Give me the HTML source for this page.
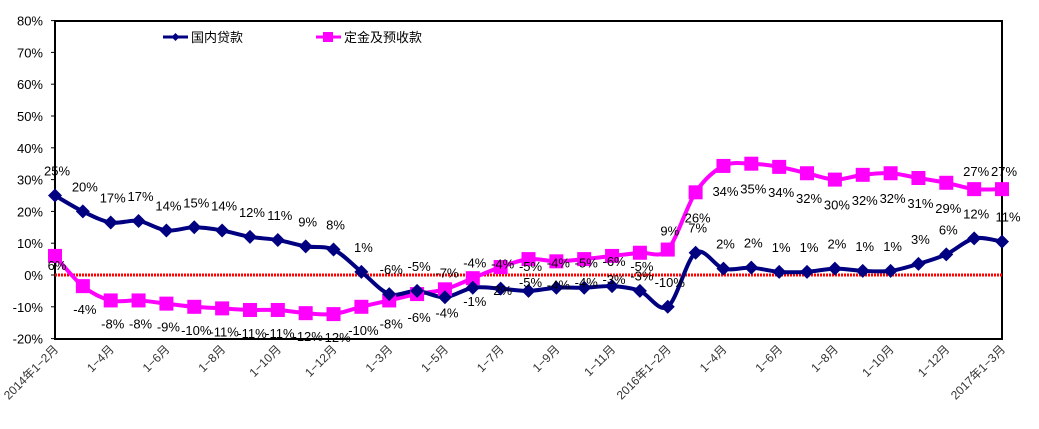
<!DOCTYPE html>
<html><head><meta charset="utf-8"><style>
body{margin:0;background:#fff;}
svg text{font-family:"Liberation Sans","Noto Sans CJK SC",sans-serif;}
</style></head><body>
<svg id="c" width="1039" height="424" xmlns="http://www.w3.org/2000/svg"></svg>
<script>
const svg=document.getElementById('c');
const L=55,R=1002,T=21,B=339;
const Y=v=>275-v*3.18;
const X=i=>L+i*(R-L)/34;
const blue=[25,20,16.5,17,14,15,14,12,11,9,8,1,-6,-5,-7,-4,-4.3,-5,-4,-4,-3.5,-5,-10,7,2,2.3,1,1,2,1.3,1.3,3.5,6.5,11.5,10.5];
const bl=[25,20,17,17,14,15,14,12,11,9,8,1,-6,-5,-7,-4,-4,-5,-4,-5,-6,-5,-10,7,2,2,1,1,2,1,1,3,6,12,11];
const pink=[6,-3.5,-8,-8,-9,-10,-10.5,-11,-11,-12,-12.3,-10,-8,-6,-4.5,-1,2.5,5,4.3,5,6,7,8,26,34.3,35,34,32,30,31.5,32,30.5,29,27,27];
const pl=[6,-4,-8,-8,-9,-10,-11,-11,-11,-12,-12,-10,-8,-6,-4,-1,2,-5,-4,-4,-3,-3,9,26,34,35,34,32,30,32,32,31,29,27,27];
let s='';
s+=`<rect x="${L}" y="${T}" width="${R-L}" height="${B-T}" fill="#fff" stroke="#000" stroke-width="2"/>`;
for(let v=80;v>=-20;v-=10){s+=`<line x1="${L-4}" x2="${L}" y1="${Y(v)}" y2="${Y(v)}" stroke="#000"/><text x="43" y="${Y(v)+5}" font-size="13" text-anchor="end">${v}%</text>`;}
s+=`<line x1="${L}" x2="${R}" y1="275" y2="275" stroke="#f00" stroke-width="3" stroke-dasharray="2,1"/>`;
function path(d){let p=`M${X(0)},${Y(d[0])}`;for(let i=0;i<d.length-1;i++){const p0=[X(Math.max(i-1,0)),Y(d[Math.max(i-1,0)])],p1=[X(i),Y(d[i])],p2=[X(i+1),Y(d[i+1])],p3=[X(Math.min(i+2,d.length-1)),Y(d[Math.min(i+2,d.length-1)])];const t=0.16;p+=` C${p1[0]+(p2[0]-p0[0])*t},${p1[1]+(p2[1]-p0[1])*t} ${p2[0]-(p3[0]-p1[0])*t},${p2[1]-(p3[1]-p1[1])*t} ${p2[0]},${p2[1]}`;}return p;}
s+=`<path d="${path(pink)}" fill="none" stroke="#f0f" stroke-width="4"/>`;
s+=`<path d="${path(blue)}" fill="none" stroke="#000080" stroke-width="4"/>`;
pink.forEach((v,i)=>{s+=`<rect x="${X(i)-7}" y="${Y(v)-7}" width="14" height="14" fill="#f0f"/>`;});
blue.forEach((v,i)=>{const x=X(i),y=Y(v);s+=`<polygon points="${x},${y-7} ${x+7},${y} ${x},${y+7} ${x-7},${y}" fill="#000080"/>`;});
blue.forEach((v,i)=>{let dx=2;if(i==34)dx=6;s+=`<text x="${X(i)+dx}" y="${Y(v)-20}" font-size="13" text-anchor="middle">${bl[i]}%</text>`;});
pink.forEach((v,i)=>{let dy=i>=23?30:28;if(i==0)dy=14;if(i==22)dy=-14;if(i>=33)dy=-13;s+=`<text x="${X(i)+2}" y="${Y(v)+dy}" font-size="13" text-anchor="middle">${pl[i]}%</text>`;});
const xl=['2014年1-2月','1-4月','1-6月','1-8月','1-10月','1-12月','1-3月','1-5月','1-7月','1-9月','1-11月','2016年1-2月','1-4月','1-6月','1-8月','1-10月','1-12月','2017年1-3月'];
const xi=[0,2,4,6,8,10,12,14,16,18,20,22,24,26,28,30,32,34];
xi.forEach((k,j)=>{const x=X(k)+4,y=350;s+=`<text transform="translate(${x},${y}) rotate(-45)" font-size="12" text-anchor="end" fill="#333">${xl[j].replace(/-/g,'−')}</text>`;});
s+=`<line x1="163" x2="188" y1="37" y2="37" stroke="#000080" stroke-width="3"/><polygon points="175.5,33 179.5,37 175.5,41 171.5,37" fill="#000080"/><text x="191" y="42" font-size="13">国内贷款</text>`;
s+=`<line x1="316" x2="341" y1="37" y2="37" stroke="#f0f" stroke-width="3"/><rect x="323" y="32" width="10" height="10" fill="#f0f"/><text x="344" y="42" font-size="13">定金及预收款</text>`;
svg.innerHTML=s;
</script>
</body></html>
